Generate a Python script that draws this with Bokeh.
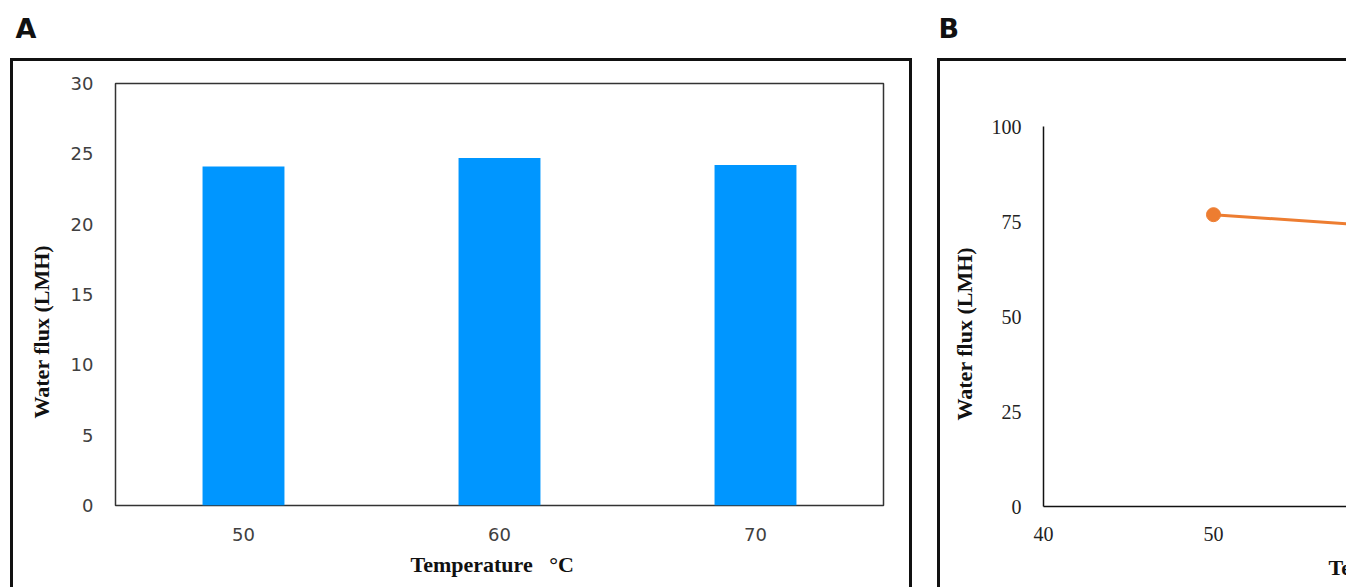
from bokeh.plotting import figure
from bokeh.models import FixedTicker, Label, Range1d, Spacer, Title
from bokeh.layouts import row, column
from bokeh.embed import file_html
from bokeh.resources import INLINE

# ---- Panel A data (bar chart) ----
temps_a = ["50", "60", "70"]
flux_a = [24.1, 24.7, 24.2]
yticks_a = [0, 5, 10, 15, 20, 25, 30]

# ---- Panel B data (line chart, partly visible) ----
temps_b = [50, 60]
flux_b = [76.8, 73.7]
yticks_b = [0, 25, 50, 75, 100]
xticks_b = [40, 50, 60, 70, 80]

panel_letters = ["A", "B"]
y_title = "Water flux (LMH)"
x_title = "Temperature \u00a0\u00a0\u00b0C"

BLUE = "#0096FF"
ORANGE = "#ED7D31"
BOX = "3px solid #111111"
SERIF = "Liberation Serif"
TITLE_COLOR = "#111111"

# ---- top strip with panel letters ----
top = figure(width=1346, height=58, x_axis_type=None, y_axis_type=None,
             x_range=Range1d(0, 1), y_range=Range1d(0, 1),
             toolbar_location=None, output_backend="svg", min_border=0,
             outline_line_color=None, frame_align=False)
for txt, xx in zip(panel_letters, [15, 938]):
    top.add_layout(Label(x=xx, y=30, x_units="screen", y_units="screen", text=txt,
                         text_baseline="alphabetic",
                         text_font="DejaVu Sans", text_font_style="bold",
                         text_font_size="27px", text_color=TITLE_COLOR))

# ---- Panel A ----
pA = figure(x_range=temps_a, y_range=Range1d(0, 30), width=902, height=529,
            toolbar_location=None, output_backend="svg", frame_align=False,
            min_border_left=102, min_border_right=32, min_border_top=22, min_border_bottom=85,
            outline_line_color="#333333", outline_line_width=1.5)
pA.vbar(x=temps_a, top=flux_a, width=0.32, fill_color=BLUE, line_color=None)
pA.grid.visible = False
for ax in (pA.xaxis[0], pA.yaxis[0]):
    ax.axis_line_color = None
    ax.major_tick_line_color = None
    ax.minor_tick_line_color = None
    ax.major_tick_in = 0
    ax.major_tick_out = 0
    ax.major_label_text_font = "DejaVu Sans"
    ax.major_label_text_font_size = "18px"
    ax.major_label_text_color = "#404040"
pA.yaxis.ticker = FixedTicker(ticks=yticks_a)
pA.yaxis.major_label_standoff = 22
pA.xaxis.major_label_standoff = 22
pA.add_layout(Title(text=y_title, align="left", vertical_align="middle", offset=87,
                    standoff=26, text_font=SERIF, text_font_style="bold",
                    text_font_size="22px", text_color=TITLE_COLOR), "left")
pA.add_layout(Title(text=x_title, align="left", vertical_align="middle", offset=295,
                    standoff=15, text_font=SERIF, text_font_style="bold",
                    text_font_size="22px", text_color=TITLE_COLOR), "below")
pA.styles = {"border-top": BOX, "border-left": BOX, "border-right": BOX}

# ---- Panel B ----
pB = figure(x_range=Range1d(40, 58), y_range=Range1d(0, 100), width=409, height=529,
            toolbar_location=None, output_backend="svg", frame_align=False,
            min_border_left=103, min_border_right=0, min_border_top=65, min_border_bottom=84,
            outline_line_color=None)
pB.line(temps_b, flux_b, line_color=ORANGE, line_width=3)
pB.scatter(temps_b, flux_b, size=14, fill_color=ORANGE, line_color=ORANGE)
pB.grid.visible = False
for ax in (pB.xaxis[0], pB.yaxis[0]):
    ax.axis_line_color = "#111111"
    ax.axis_line_width = 1.5
    ax.major_tick_line_color = None
    ax.minor_tick_line_color = None
    ax.major_tick_in = 0
    ax.major_tick_out = 0
    ax.major_label_text_font = SERIF
    ax.major_label_text_font_size = "20px"
    ax.major_label_text_color = "#222222"
pB.yaxis.ticker = FixedTicker(ticks=yticks_b)
pB.xaxis.ticker = FixedTicker(ticks=xticks_b)
pB.yaxis.major_label_standoff = 22
pB.xaxis.major_label_standoff = 20
pB.add_layout(Title(text=y_title, align="left", vertical_align="middle", offset=86,
                    standoff=21, text_font=SERIF, text_font_style="bold",
                    text_font_size="22px", text_color=TITLE_COLOR), "left")
pB.add_layout(Title(text=x_title, align="left", vertical_align="middle", offset=285,
                    standoff=20, text_font=SERIF, text_font_style="bold",
                    text_font_size="22px", text_color=TITLE_COLOR), "below")
pB.styles = {"border-top": BOX, "border-left": BOX}

layout = column(top, row(Spacer(width=10, height=529), pA, Spacer(width=25, height=529), pB))

open("out.html", "w").write(file_html(layout, INLINE))
